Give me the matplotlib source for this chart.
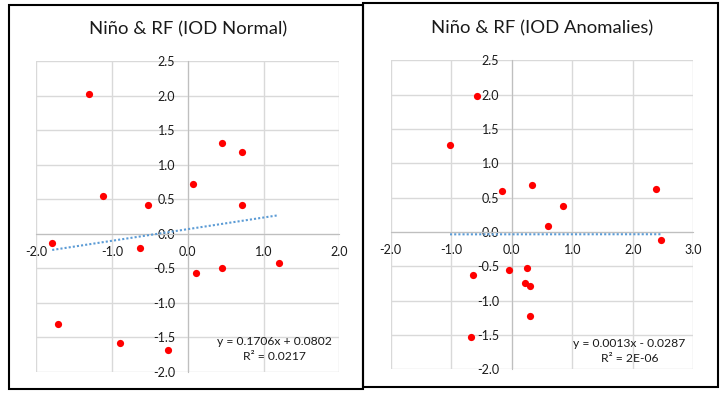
import numpy as np
from matplotlib import pyplot as plt
from matplotlib.patches import Rectangle

# Niño vs RF, IOD normal years
normal_x = [-1.31, 0.45, 0.71, 0.07, -1.12, -0.52, 0.71, -1.79, -0.63, 1.20,
            0.45, 0.11, -1.72, -0.89, -0.26]
normal_y = [2.03, 1.32, 1.19, 0.73, 0.55, 0.42, 0.42, -0.13, -0.21, -0.42,
            -0.50, -0.56, -1.31, -1.58, -1.68]

# Niño vs RF, IOD anomaly years
anom_x = [-0.57, -1.02, -0.16, 0.33, 2.39, 0.85, 0.60, 2.47, 0.25, -0.05,
          -0.64, 0.22, 0.30, 0.30, -0.68]
anom_y = [1.98, 1.26, 0.60, 0.68, 0.62, 0.38, 0.09, -0.12, -0.53, -0.56,
          -0.63, -0.74, -0.78, -1.23, -1.53]

titles = ["Niño & RF (IOD Normal)", "Niño & RF (IOD Anomalies)"]
equations = ["y = 0.1706x + 0.0802\nR² = 0.0217", "y = 0.0013x - 0.0287\nR² = 2E-06"]
xticks_list = [[-2.0, -1.0, 0.0, 1.0, 2.0], [-2.0, -1.0, 0.0, 1.0, 2.0, 3.0]]
yticks = [-2.0, -1.5, -1.0, -0.5, 0.0, 0.5, 1.0, 1.5, 2.0, 2.5]

plt.rcParams['font.family'] = ['Lato', 'DejaVu Sans']
plt.rcParams['axes.unicode_minus'] = False

W, H = 724, 394
fig = plt.figure(figsize=(W / 100, H / 100), dpi=100)


def px_rect(x0, y0, x1, y1):
    # pixel box (top-left origin) -> figure fraction [l, b, w, h]
    return [x0 / W, (H - y1) / H, (x1 - x0) / W, (y1 - y0) / H]


ax_boxes = [px_rect(36.3, 61.3, 339.3, 372.0), px_rect(390.7, 60.3, 693.3, 369.3)]
eq_pos = [(0.785, 0.073), (0.789, 0.060)]
datasets = [(normal_x, normal_y), (anom_x, anom_y)]

for i in range(2):
    ax = fig.add_axes(ax_boxes[i])
    xs, ys = np.array(datasets[i][0]), np.array(datasets[i][1])
    xt = xticks_list[i]

    ax.set_xlim(xt[0], xt[-1])
    ax.set_ylim(-2.0, 2.5)
    ax.set_xticks(xt)
    ax.set_yticks(yticks)
    ax.set_xticklabels(["%.1f" % v for v in xt])
    ax.set_yticklabels(["%.1f" % v for v in yticks])

    ax.grid(True, color='#D9D9D9', linewidth=1.0, zorder=0)
    for gl in ax.get_xgridlines() + ax.get_ygridlines():
        gl.set_clip_on(False)
    ax.set_axisbelow(True)

    for s in ['top', 'right']:
        ax.spines[s].set_visible(False)
    ax.spines['left'].set_position(('data', 0))
    ax.spines['bottom'].set_position(('data', 0))
    ax.spines['left'].set_color('#BFBFBF')
    ax.spines['bottom'].set_color('#BFBFBF')
    ax.tick_params(axis='y', length=0, pad=9, labelsize=9, colors='#1a1a1a')
    ax.tick_params(axis='x', length=0, pad=9, labelsize=9, colors='#1a1a1a')

    # linear trendline over data range
    k, b = np.polyfit(xs, ys, 1)
    tx = np.array([xs.min(), xs.max()])
    ax.plot(tx, k * tx + b, color='#5B9BD5', linewidth=1.5,
            linestyle=(0, (1, 1)), zorder=3)

    ax.scatter(xs, ys, s=27, color='#FF0000', zorder=4, linewidths=0)

    ax.set_title(titles[i], fontsize=13.3, pad=19, color='#1a1a1a')
    ax.text(eq_pos[i][0], eq_pos[i][1], equations[i], transform=ax.transAxes,
            ha='center', va='center', fontsize=8.7, linespacing=1.45,
            color='#1a1a1a')

# black frames round the two charts
for (x0, y0, x1, y1) in [(8.5, 5, 363, 388.5), (363, 3, 718, 387)]:
    l, bt, w, h = px_rect(x0, y0, x1, y1)
    fig.add_artist(Rectangle((l, bt), w, h, transform=fig.transFigure,
                             fill=False, edgecolor='black', linewidth=1.5))

plt.savefig("out.png", dpi=100)
